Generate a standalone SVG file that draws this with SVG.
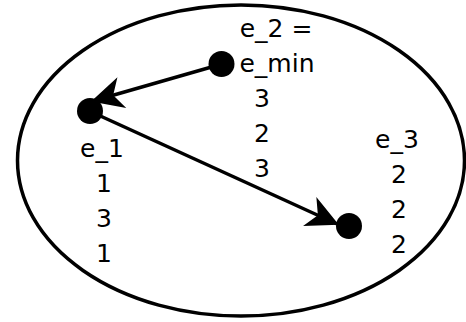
<svg xmlns="http://www.w3.org/2000/svg" width="466" height="322" viewBox="0 0 466 322">
<style>
text{font-family:"DejaVu Sans",sans-serif;font-size:25px;fill:#000;text-anchor:middle}
.dot{fill:#000}
.conn{stroke:#000;stroke-width:3.5;fill:none}
</style>
<defs>
<marker id="arr" markerUnits="userSpaceOnUse" markerWidth="40" markerHeight="40" refX="0" refY="0" orient="auto" overflow="visible">
<path d="M2,0 L-30,-16 L-21,0 L-30,16 Z" fill="#000"/>
</marker>
</defs>
<ellipse cx="241" cy="160.5" rx="223.5" ry="155.5" fill="none" stroke="#000" stroke-width="3.5"/>
<g id="connectors">
<path class="conn" d="M215,66 L93,101" marker-end="url(#arr)"/>
<path class="conn" d="M96,114 L337,224" marker-end="url(#arr)"/>
</g>
<g id="e_2">
<circle class="dot" cx="221.5" cy="64" r="13"/>
<text x="276" y="37">e_2 =</text>
<text x="277" y="72">e_min</text>
<text x="262" y="107">3</text>
<text x="262" y="142">2</text>
<text x="262" y="177">3</text>
</g>
<g id="e_1">
<circle class="dot" cx="90" cy="111" r="13"/>
<text x="102" y="157">e_1</text>
<text x="104" y="192">1</text>
<text x="104" y="227">3</text>
<text x="104" y="262">1</text>
</g>
<g id="e_3">
<circle class="dot" cx="349" cy="226" r="13"/>
<text x="397" y="148">e_3</text>
<text x="399" y="183">2</text>
<text x="399" y="218">2</text>
<text x="399" y="253">2</text>
</g>
</svg>
